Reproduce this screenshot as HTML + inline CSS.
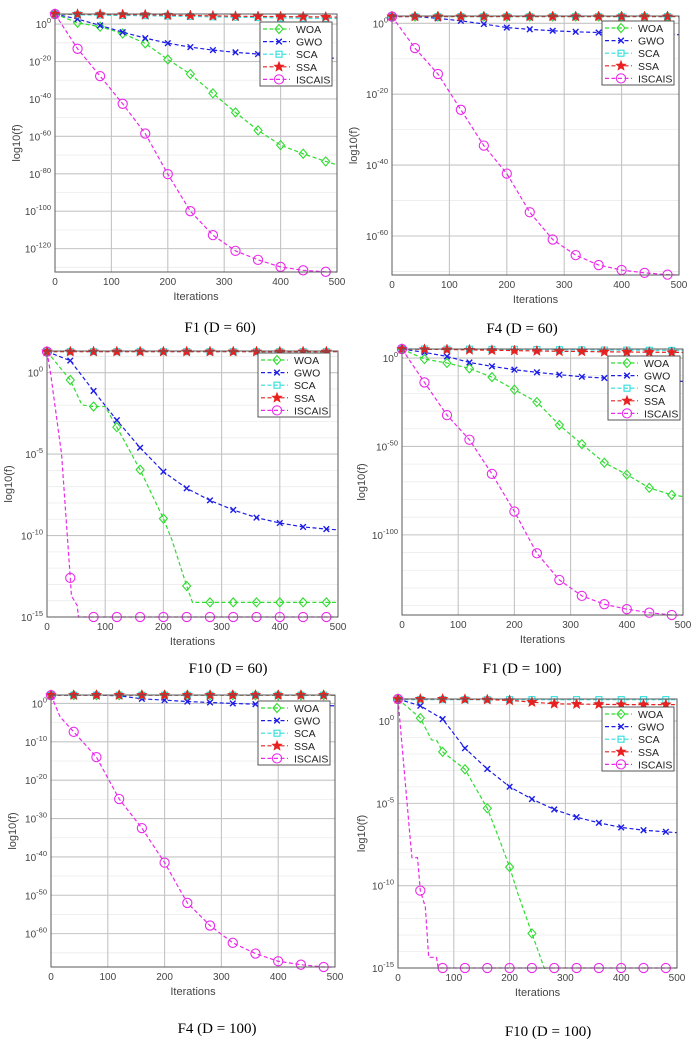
<!DOCTYPE html>
<html><head><meta charset="utf-8">
<style>
html,body{margin:0;padding:0;background:#fff;}
svg{display:block;font-family:"Liberation Sans",sans-serif;}
</style></head>
<body>
<svg id="fig" width="699" height="1042" viewBox="0 0 699 1042" xmlns="http://www.w3.org/2000/svg"></svg>
<script>
// ---------- data (log10 of fitness) ----------
const iterStd = [0,40,80,120,160,200,240,280,320,360,400,440,480,500];
const xTicks = [0,100,200,300,400,500];
const seriesNames = ["WOA","GWO","SCA","SSA","ISCAIS"];

// F1 D=60
const p1_woa = [5.4,0.7,-1.4,-5,-10.3,-18.9,-26.7,-37,-47.2,-56.8,-64.7,-69.3,-73.4,-75.2];
const p1_gwo = [5.4,2.7,-0.7,-4.3,-7.5,-10.2,-12.3,-13.9,-15.1,-16,-16.8,-17.4,-18,-18.3];
const p1_sca = [5.4,5.0,4.8,4.6,4.5,4.3,4.1,3.9,3.7,3.5,3.3,3.2,3.0,3.0];
const p1_ssa = [5.4,5.3,5.2,5.1,5.0,4.8,4.6,4.4,4.2,4.1,4.0,3.9,3.8,3.7];
const p1_isc = [5.4,-13.2,-27.8,-42.6,-58.5,-80.2,-100,-112.8,-121.2,-126,-129.8,-131.6,-132.4,-132.5];
const p1_ticks = [0,-20,-40,-60,-80,-100,-120];

// F4 D=60
const p2_woa = [1.9,1.9,1.9,1.9,1.9,1.9,1.9,1.9,1.9,1.9,1.9,1.9,1.9,1.9];
const p2_gwo = [1.9,1.9,1.4,0.7,-0.2,-1.2,-1.7,-2.1,-2.4,-2.6,-2.8,-3.0,-3.1,-3.2];
const p2_sca = [1.9,1.9,1.9,1.9,1.9,1.9,1.9,1.9,1.9,1.9,1.9,1.9,1.9,1.9];
const p2_ssa = [1.9,1.9,1.9,1.9,1.9,1.9,1.9,1.9,1.9,1.9,1.9,1.9,1.9,1.9];
const p2_isc = [1.9,-7,-14.3,-24.4,-34.5,-42.4,-53.3,-61,-65.4,-68.2,-69.6,-70.4,-70.9,-71];
const p2_ticks = [0,-20,-40,-60];

// F10 D=60
const p3_woa_iter = [0,40,60,80,100,120,160,200,215,240,250,280,320,360,400,440,480,500];
const p3_woa = [1.29,-0.45,-1.98,-2.08,-2.08,-3.35,-5.96,-8.96,-10.3,-13.1,-14.1,-14.1,-14.1,-14.1,-14.1,-14.1,-14.1,-14.1];
const p3_gwo = [1.29,0.74,-1.12,-2.92,-4.61,-6.08,-7.1,-7.84,-8.43,-8.9,-9.23,-9.47,-9.6,-9.65];
const p3_sca = [1.29,1.29,1.29,1.29,1.29,1.29,1.29,1.29,1.29,1.29,1.29,1.29,1.29,1.29];
const p3_ssa = [1.29,1.29,1.29,1.29,1.29,1.29,1.29,1.29,1.29,1.29,1.29,1.29,1.29,1.29];
const p3_isc_iter = [0,6,25,40,42,52,54,80,120,160,200,240,280,320,360,400,440,480,500];
const p3_isc = [1.29,0,-5,-12.6,-13.7,-14.3,-15,-15,-15,-15,-15,-15,-15,-15,-15,-15,-15,-15,-15];
const p3_ticks = [0,-5,-10,-15];

// F1 D=100
const p4_woa = [5.1,-0.6,-2.8,-5.9,-10.8,-17.9,-24.9,-37.9,-48.7,-59.2,-65.9,-73.4,-77.4,-78.3];
const p4_gwo = [5.1,3.2,0.9,-2.5,-4.7,-6.6,-8.1,-9.4,-10.6,-11.3,-12,-12.5,-13,-13.2];
const p4_sca = [5.1,5.1,5.0,5.0,4.9,4.9,4.8,4.7,4.6,4.5,4.5,4.4,4.3,4.3];
const p4_ssa = [5.1,4.9,4.8,4.6,4.4,4.2,4.0,3.8,3.7,3.5,3.4,3.3,3.2,3.2];
const p4_isc = [5.1,-13.8,-32.3,-46.2,-65.5,-86.8,-110.4,-125.5,-134.5,-139.2,-142,-144,-145.3,-145.4];
const p4_ticks = [0,-50,-100];

// F4 D=100
const p5_woa = [2.16,2.16,2.16,2.16,2.16,2.16,2.16,2.16,2.16,2.16,2.16,2.16,2.16,2.16];
const p5_gwo = [2.16,2.16,2.16,2.0,1.2,0.86,0.5,0.25,0,-0.2,-0.4,-0.5,-0.6,-0.6];
const p5_sca = [2.16,2.16,2.16,2.16,2.16,2.16,2.16,2.16,2.16,2.16,2.16,2.16,2.16,2.16];
const p5_ssa = [2.16,2.16,2.16,2.16,2.16,2.16,2.16,2.16,2.16,2.16,2.16,2.16,2.16,2.16];
const p5_isc_iter = [0,16,40,80,120,160,200,240,280,320,360,400,440,480,500];
const p5_isc = [2.16,-3.5,-7.4,-14,-24.9,-32.5,-41.5,-52,-57.9,-62.4,-65.2,-67.2,-68.1,-68.7,-68.7];
const p5_ticks = [0,-10,-20,-30,-40,-50,-60];

// F10 D=100
const p6_woa_iter = [0,40,60,70,80,120,160,180,200,215,240,262,280,320,360,400,440,480,500];
const p6_woa = [1.34,0.18,-1.14,-1.2,-1.87,-2.93,-5.3,-7.04,-8.87,-10.5,-12.9,-15,-16,-16,-16,-16,-16,-16,-16];
const p6_gwo = [1.34,0.93,0.12,-1.65,-2.91,-3.99,-4.74,-5.37,-5.84,-6.18,-6.46,-6.63,-6.73,-6.78];
const p6_sca = [1.3,1.3,1.3,1.3,1.3,1.3,1.3,1.3,1.3,1.3,1.3,1.3,1.3,1.3];
const p6_ssa = [1.34,1.34,1.34,1.32,1.3,1.26,1.15,1.05,1.03,1.02,1.0,1.0,1.0,1.0];
const p6_isc_iter = [0,10,22,25,35,40,49,55,69,72,80,120,160,200,240,280,320,360,400,440,480,500];
const p6_isc = [1.34,-2.56,-7.2,-8.3,-8.3,-10.3,-11.3,-14.35,-14.35,-15,-15,-15,-15,-15,-15,-15,-15,-15,-15,-15,-15,-15];
const p6_ticks = [0,-5,-10,-15];

// ---------- layout ----------
const NS = "http://www.w3.org/2000/svg";
const svg = document.getElementById("fig");
const colors = {WOA:"#2fdc2f", GWO:"#1c1ce8", SCA:"#2fdede", SSA:"#e82020", ISCAIS:"#ea2aea"};

const panels = [
 {name:"f1-d60", x0:55, x1:337, yt:14, yb:272, ymin:-132.5, ymax:5.4, ticks:p1_ticks, minorStep:10, ylabX:20,
  legX:260, legY:22, cap:"F1 (D = 60)", capX:220, capY:332,
  series:[[iterStd,p1_woa],[iterStd,p1_gwo],[iterStd,p1_sca],[iterStd,p1_ssa],[iterStd,p1_isc]]},
 {name:"f4-d60", x0:392, x1:679, yt:16, yb:275, ymin:-71, ymax:2.06, ticks:p2_ticks, minorStep:10, ylabX:357,
  legX:602, legY:21, cap:"F4 (D = 60)", capX:522, capY:333,
  series:[[iterStd,p2_woa],[iterStd,p2_gwo],[iterStd,p2_sca],[iterStd,p2_ssa],[iterStd,p2_isc]]},
 {name:"f10-d60", x0:47, x1:338, yt:351, yb:617, ymin:-15, ymax:1.33, ticks:p3_ticks, minorStep:1, ylabX:12,
  legX:258, legY:353, cap:"F10 (D = 60)", capX:228, capY:673,
  series:[[p3_woa_iter,p3_woa],[iterStd,p3_gwo],[iterStd,p3_sca],[iterStd,p3_ssa],[p3_isc_iter,p3_isc]]},
 {name:"f1-d100", x0:402, x1:683, yt:349, yb:615, ymin:-145.3, ymax:5.1, ticks:p4_ticks, minorStep:10, ylabX:365,
  legX:608, legY:356, cap:"F1 (D = 100)", capX:522, capY:673,
  series:[[iterStd,p4_woa],[iterStd,p4_gwo],[iterStd,p4_sca],[iterStd,p4_ssa],[iterStd,p4_isc]]},
 {name:"f4-d100", x0:51, x1:335, yt:695, yb:967, ymin:-68.7, ymax:2.2, ticks:p5_ticks, minorStep:5, ylabX:16,
  legX:258, legY:701, cap:"F4 (D = 100)", capX:217, capY:1033,
  series:[[iterStd,p5_woa],[iterStd,p5_gwo],[iterStd,p5_sca],[iterStd,p5_ssa],[p5_isc_iter,p5_isc]]},
 {name:"f10-d100", x0:398, x1:677, yt:699, yb:968, ymin:-15, ymax:1.34, ticks:p6_ticks, minorStep:1, ylabX:365,
  legX:602, legY:707, cap:"F10 (D = 100)", capX:548, capY:1036,
  series:[[p6_woa_iter,p6_woa],[iterStd,p6_gwo],[iterStd,p6_sca],[iterStd,p6_ssa],[p6_isc_iter,p6_isc]]}
];

function mk(tag, attrs, parent){
  const e = document.createElementNS(NS, tag);
  for (const k in attrs) e.setAttribute(k, attrs[k]);
  (parent||svg).appendChild(e);
  return e;
}

function drawMarker(g, s, x, y){
  const c = colors[s];
  let m;
  if (s === "WOA") {
    m = mk("polygon",{points:`${x},${y-4.5} ${x+4},${y} ${x},${y+4.5} ${x-4},${y}`, fill:"none", stroke:c, "stroke-width":1.1}, g);
  } else if (s === "GWO") {
    m = mk("path",{d:`M${x-2.8},${y-2.8}L${x+2.8},${y+2.8}M${x-2.8},${y+2.8}L${x+2.8},${y-2.8}`, stroke:c, "stroke-width":1.4}, g);
  } else if (s === "SCA") {
    m = mk("rect",{x:x-3,y:y-3,width:6,height:6, fill:"none", stroke:c, "stroke-width":1.1}, g);
  } else if (s === "SSA") {
    let pts = [];
    for (let i=0;i<10;i++){ const r = i%2?2.3:5.5; const a = -Math.PI/2 + i*Math.PI/5; pts.push((x+r*Math.cos(a)).toFixed(2)+","+(y+r*Math.sin(a)).toFixed(2)); }
    m = mk("polygon",{points:pts.join(" "), fill:c, stroke:c, "stroke-width":0.5}, g);
  } else {
    m = mk("circle",{cx:x,cy:y,r:4.6, fill:"none", stroke:c, "stroke-width":1.1}, g);
  }
  
  
}

panels.forEach((p, pi) => {
  const g = mk("g",{});
  
  
  const sx = v => p.x0 + (v/500)*(p.x1-p.x0);
  const sy = v => p.yt + (p.ymax - v)/(p.ymax - p.ymin)*(p.yb-p.yt);

  const bg = mk("rect",{x:p.x0,y:p.yt,width:p.x1-p.x0,height:p.yb-p.yt,fill:"#fff"}, g);
  
  

  // minor grid
  for (let v = Math.ceil(p.ymin/p.minorStep)*p.minorStep; v <= p.ymax; v += p.minorStep) {
    if (p.ticks.includes(v)) continue;
    const l = mk("line",{x1:p.x0,x2:p.x1,y1:sy(v),y2:sy(v),stroke:"#ececec","stroke-width":0.8}, g);
    
    
  }
  // major grid
  p.ticks.forEach(t => {
    const l = mk("line",{x1:p.x0,x2:p.x1,y1:sy(t),y2:sy(t),stroke:"#c4c4c4","stroke-width":1.1}, g);
    
    
    const tx = mk("text",{x:p.x0-4,y:sy(t)+4,"text-anchor":"end","font-size":"10",fill:"#444"}, g);
    
    
    tx.textContent = "10";
    const ts = mk("tspan",{dy:-5,"font-size":"7.5"}, tx);
    ts.textContent = String(t);
  });
  xTicks.forEach(t => {
    if (t>0 && t<500) {
      const l = mk("line",{x1:sx(t),x2:sx(t),y1:p.yt,y2:p.yb,stroke:"#c4c4c4","stroke-width":1.1}, g);
      
      
    }
    const tx = mk("text",{x:sx(t),y:p.yb+13,"text-anchor":"middle","font-size":"10",fill:"#444"}, g);
    
    
    tx.textContent = String(t);
  });

  // clip
  const cid = "clip"+pi;
  const cp = mk("clipPath",{id:cid}, g);
  mk("rect",{x:p.x0,y:p.yt-1,width:p.x1-p.x0,height:p.yb-p.yt+2}, cp);

  // series
  p.series.forEach((sd, si) => {
    const s = seriesNames[si];
    const [xs, ys] = sd;
    const sg = mk("g",{}, g);
    
    
    const d = xs.map((x,i)=>(i?"L":"M")+sx(x).toFixed(2)+","+sy(ys[i]).toFixed(2)).join("");
    const path = mk("path",{d:d,fill:"none",stroke:colors[s],"stroke-width":1.2,"stroke-dasharray":"4,2.5","clip-path":`url(#${cid})`}, sg);
    
    
    xs.forEach((x,i)=>{
      if (x%40===0 && x<500 && ys[i] >= p.ymin-0.3) drawMarker(sg, s, sx(x), sy(ys[i]));
    });
  });

  // axes box
  const box = mk("rect",{x:p.x0,y:p.yt,width:p.x1-p.x0,height:p.yb-p.yt,fill:"none",stroke:"#5a5a5a","stroke-width":1}, g);
  
  

  // axis labels
  const xl = mk("text",{x:(p.x0+p.x1)/2,y:p.yb+28,"text-anchor":"middle","font-size":"11",fill:"#444"}, g);
  
  
  xl.textContent = "Iterations";
  const ym = (p.yt+p.yb)/2;
  const yl = mk("text",{x:p.ylabX,y:ym,"text-anchor":"middle","font-size":"11",fill:"#444",transform:`rotate(-90 ${p.ylabX} ${ym})`}, g);
  
  
  yl.textContent = "log10(f)";

  // legend
  const lg = mk("g",{}, g);
  
  
  mk("rect",{x:p.legX,y:p.legY,width:72,height:64,fill:"#fff",stroke:"#444","stroke-width":0.9}, lg);
  seriesNames.forEach((s,i)=>{
    const ry = p.legY + 7 + i*12.6;
    const le = mk("g",{}, lg);
    
    
    mk("line",{x1:p.legX+3,x2:p.legX+30,y1:ry,y2:ry,stroke:colors[s],"stroke-width":1.2,"stroke-dasharray":"4,2.5"}, le);
    drawMarker(le, s, p.legX+19, ry);
    const t = mk("text",{x:p.legX+36,y:ry+4,"font-size":"10.5",fill:"#222"}, le);
    t.textContent = s;
  });

  // caption
  const cap = mk("text",{x:p.capX,y:p.capY,"text-anchor":"middle","font-size":"15",fill:"#000","font-family":"Liberation Serif, serif"}, g);
  
  
  cap.textContent = p.cap;
});
</script>
</body></html>
